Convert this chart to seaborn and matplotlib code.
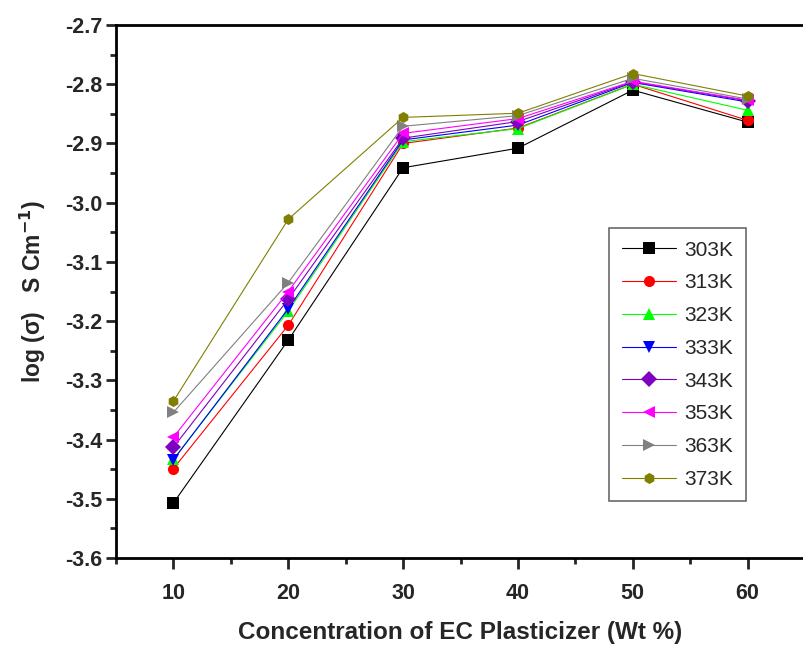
import pandas as pd
import seaborn as sns
import matplotlib.pyplot as plt
from matplotlib.ticker import MultipleLocator

# Data
conc = [10, 20, 30, 40, 50, 60]
temps = ['303K', '313K', '323K', '333K', '343K', '353K', '363K', '373K']
k303 = [-3.507, -3.232, -2.941, -2.908, -2.810, -2.864]
k313 = [-3.449, -3.207, -2.900, -2.874, -2.800, -2.861]
k323 = [-3.433, -3.183, -2.897, -2.875, -2.800, -2.844]
k333 = [-3.434, -3.179, -2.894, -2.869, -2.797, -2.830]
k343 = [-3.413, -3.163, -2.891, -2.863, -2.796, -2.828]
k353 = [-3.396, -3.150, -2.883, -2.858, -2.795, -2.827]
k363 = [-3.354, -3.135, -2.871, -2.853, -2.790, -2.825]
k373 = [-3.335, -3.028, -2.856, -2.849, -2.782, -2.820]
series = [k303, k313, k323, k333, k343, k353, k363, k373]
yticks = [-3.6, -3.5, -3.4, -3.3, -3.2, -3.1, -3.0, -2.9, -2.8, -2.7]

colors = ['#000000', '#ff0000', '#00ff00', '#0000ff', '#8000c0', '#ff00ff', '#808080', '#808000']
markers = ['s', 'o', '^', 'v', 'D', '<', '>', 'h']

rows = []
for t, vals in zip(temps, series):
    for c, v in zip(conc, vals):
        rows.append({'conc': c, 'logsigma': v, 'temp': t})
df = pd.DataFrame(rows)

sns.set_theme(style="white")
plt.rcParams['font.family'] = ['Liberation Sans', 'DejaVu Sans']
plt.rcParams['mathtext.default'] = 'bf'

fig = plt.figure(figsize=(8.04, 6.46), dpi=100)
ax = fig.add_axes([0.1443, 0.1362, 0.857, 0.8251])

sns.lineplot(
    data=df, x='conc', y='logsigma', hue='temp', style='temp',
    hue_order=temps, style_order=temps,
    palette=dict(zip(temps, colors)), markers=dict(zip(temps, markers)),
    dashes=False, linewidth=0.8, markersize=8, markeredgewidth=0,
    ax=ax
)

ax.set_xlim(5, 65)
ax.set_ylim(-3.6, -2.7)
ax.xaxis.set_major_locator(MultipleLocator(10))
ax.xaxis.set_minor_locator(MultipleLocator(5))
ax.yaxis.set_minor_locator(MultipleLocator(0.05))
ax.set_yticks(yticks)
ax.set_yticklabels([f'{v:.1f}' for v in yticks])

ax.tick_params(axis='x', which='major', direction='out', length=8, width=2,
               labelsize=15.5, bottom=True, pad=10)
ax.tick_params(axis='y', which='major', direction='out', length=7, width=2,
               labelsize=15.5, left=True, pad=3)
ax.tick_params(axis='both', which='minor', direction='out', length=4, width=2,
               left=True, bottom=True)
for lbl in ax.get_xticklabels() + ax.get_yticklabels():
    lbl.set_fontweight('bold')
for s in ax.spines.values():
    s.set_linewidth(2)
    s.set_color('black')

ax.set_xlabel('Concentration of EC Plasticizer (Wt %)', fontsize=17.5, fontweight='bold', labelpad=12)
ax.set_ylabel('log (σ)   S Cm$^{-1}$)', fontsize=16.5, fontweight='bold', labelpad=12)

leg = ax.legend(loc='upper left', bbox_to_anchor=(0.7155, 0.619), borderaxespad=0,
                fontsize=15, frameon=True, fancybox=False, edgecolor='#444444',
                handlelength=2.6, handletextpad=0.4, labelspacing=0.66,
                borderpad=0.6, markerscale=1.0)
leg.get_frame().set_linewidth(1.2)

plt.savefig('out.png', dpi=100)
